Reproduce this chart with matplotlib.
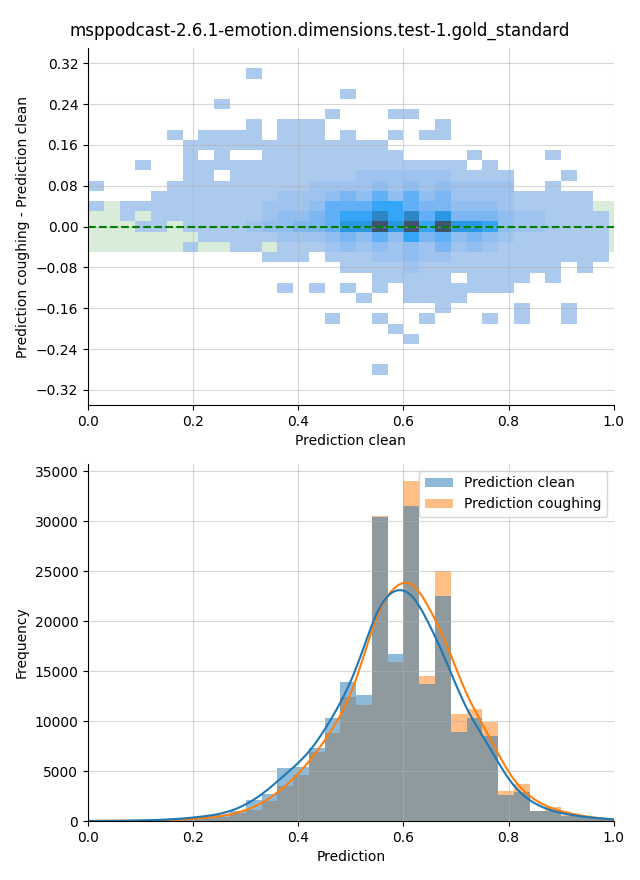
import matplotlib.pyplot as plt
import numpy as np
import pandas as pd
import seaborn as sns

title = "msppodcast-2.6.1-emotion.dimensions.test-1.gold_standard"

# top: 2d histogram, prediction clean (x) vs coughing - clean (y)
# one string per y bin, from the top bin (0.29..0.31) down to (-0.29..-0.27)
# '.' = empty cell, 1..9 = colour level
diff_grid = [
    "..........1......................",
    ".................................",
    "................1................",
    "........1........................",
    "...............1...11............",
    "..........1.111.......1..........",
    ".....1.1111.111.1..1.11..........",
    "......1111111111111..............",
    "......1.1..111111111....1....1...",
    "...1..111111111111111111.1.......",
    "......11.111111112222221111...1..",
    "1....1111111112222323232222..1...",
    "....1111111122234353534222211111.",
    "1.111111111222355566544333211111.",
    "..1.11111112334566868574443221111",
    "...11.111123344577979697763221111",
    ".......11111222343536453432111111",
    "......1..11.111232323242321111111",
    "...........111.111223221111111111",
    "................11112111111111.1.",
    "..................11111.1111.1...",
    "............1.1.1.1.1111111......",
    ".................1..1111.........",
    "......................1....1..1..",
    "...............1..1..1...1.1..1..",
    "...................1.............",
    "....................1............",
    ".................................",
    ".................................",
    "..................1..............",
]
level_counts = [0, 30, 500, 1000, 1600, 2300, 3100, 4200, 5600, 9500]
x_bin = 0.03
diff_bin = 0.02
diff_top = 0.31

# bottom: histogram of both predictions (bins of 0.03 starting at 0)
n_bins = 34
clean_counts = [10, 20, 30, 50, 100, 150, 300, 500, 600, 1000, 2100, 2700,
                5300, 5450, 7350, 10350, 13900, 12650, 30450, 16750, 31550,
                13750, 22550, 8900, 10350, 8550, 2650, 2900, 1000, 1050, 500,
                380, 280, 100]
cough_counts = [10, 15, 20, 30, 60, 100, 200, 300, 400, 800, 1150, 2000,
                3500, 4600, 6900, 8800, 12400, 11650, 30550, 15900, 34050,
                14550, 25000, 10750, 11250, 9900, 3050, 3750, 1050, 1400, 650,
                420, 250, 100]

assert all(len(r) == 33 for r in diff_grid), [len(r) for r in diff_grid]

fig, (ax1, ax2) = plt.subplots(2, 1, figsize=(6.4, 8.8))
fig.subplots_adjust(left=0.1375, right=0.959, top=0.9455, bottom=0.067, hspace=0.164)
fig.suptitle(title, fontsize=12, y=0.975)

# ---- top plot
xs, ys, ws = [], [], []
for i, row in enumerate(diff_grid):
    for j, ch in enumerate(row):
        if ch != ".":
            xs.append((j + 0.5) * x_bin)
            ys.append(diff_top - (i + 0.5) * diff_bin)
            ws.append(level_counts[int(ch)])
x_edges = list(np.arange(34) * x_bin)
y_edges = list(diff_top - np.arange(len(diff_grid) + 1)[::-1] * diff_bin)

ax1.axhspan(-0.05, 0.05, color="green", alpha=0.15, lw=0, zorder=0)
sns.histplot(x=xs, y=ys, weights=ws, bins=[x_edges, y_edges], ax=ax1)
ax1.axhline(0, color="green", ls="--")
ax1.set_xlim(0, 1)
ax1.set_ylim(-0.35, 0.35)
ax1.set_yticks(np.arange(-0.32, 0.33, 0.08))
ax1.set_xlabel("Prediction clean")
ax1.set_ylabel("Prediction coughing - Prediction clean")
ax1.grid(alpha=0.5)

# ---- bottom plot
edges = np.arange(n_bins + 1) * x_bin
centers = (edges[:-1] + edges[1:]) / 2
df = pd.DataFrame({
    "Prediction": np.concatenate([centers, centers]),
    "count": clean_counts + cough_counts,
    "series": ["Prediction clean"] * n_bins + ["Prediction coughing"] * n_bins,
})
sns.histplot(df, x="Prediction", weights="count", hue="series", bins=list(edges),
             kde=True, kde_kws=dict(bw_adjust=0.45, cut=3, clip=(0, 1)),
             linewidth=0, ax=ax2)
sns.move_legend(ax2, "upper right", title=None)
ax2.set_xlim(0, 1)
ax2.set_xlabel("Prediction")
ax2.set_ylabel("Frequency")
ax2.grid(alpha=0.5)

sns.despine(fig)
plt.savefig("out.png", dpi=100)
